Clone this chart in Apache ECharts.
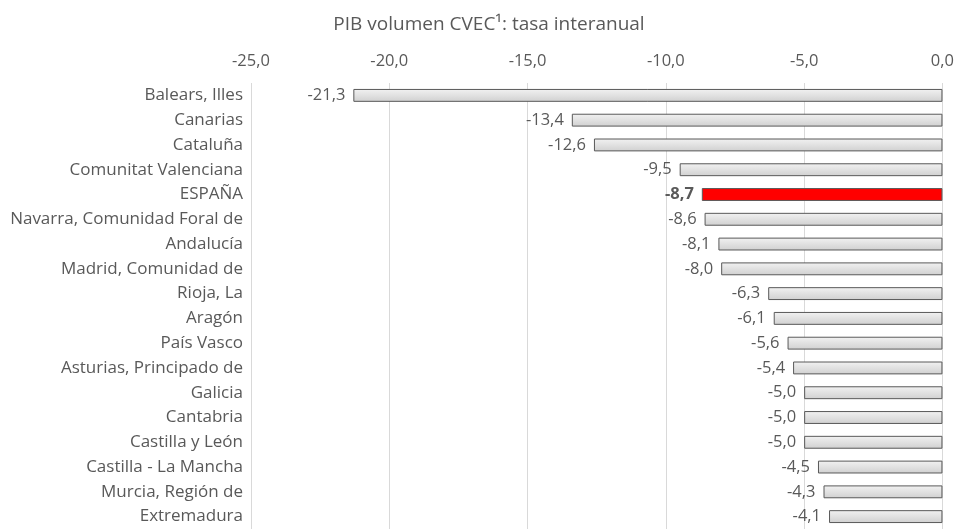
<!DOCTYPE html>
<html>
<head>
<meta charset="utf-8">
<script src="https://cdn.jsdelivr.net/npm/echarts@6/dist/echarts.min.js"></script>
<style>
  html, body { margin: 0; padding: 0; background: #fff; }
  #chart { width: 957px; height: 530px; }
</style>
</head>
<body>
<div id="chart"></div>
<script>
const regions = [
  'Balears, Illes', 'Canarias', 'Cataluña', 'Comunitat Valenciana', 'ESPAÑA',
  'Navarra, Comunidad Foral de', 'Andalucía', 'Madrid, Comunidad de', 'Rioja, La',
  'Aragón', 'País Vasco', 'Asturias, Principado de', 'Galicia', 'Cantabria',
  'Castilla y León', 'Castilla - La Mancha', 'Murcia, Región de', 'Extremadura'
]
const tasa = [-21.3, -13.4, -12.6, -9.5, -8.7, -8.6, -8.1, -8.0, -6.3, -6.1, -5.6, -5.4, -5.0, -5.0, -5.0, -4.5, -4.3, -4.1]
const highlight = 'ESPAÑA'

const fmt = (v) => v.toFixed(1).replace('.', ',')
const textColor = '#595959'
const font = 'Open Sans'

const chart = echarts.init(document.getElementById('chart'))

// barras grises con degradado, España en rojo
const barData = tasa.map((v, i) => {
  const isEsp = regions[i] === highlight
  return {
    value: v,
    itemStyle: isEsp
      ? { color: '#ff0000', borderColor: '#595959', borderWidth: 1 }
      : {
          color: new echarts.graphic.LinearGradient(0, 0, 0, 1, [
            { offset: 0, color: '#f2f2f2' },
            { offset: 1, color: '#d0d0d0' },
          ]),
          borderColor: '#595959',
          borderWidth: 1,
        },
    label: isEsp ? { fontWeight: 'bold' } : {},
  }
})

chart.setOption({
  animation: false,
  title: {
    text: 'PIB volumen CVEC¹: tasa interanual',
    left: 484,
    textAlign: 'center',
    top: 10,
    textStyle: { color: textColor, fontSize: 19, fontWeight: 'normal', fontFamily: font },
  },
  grid: { left: 251, right: 14, top: 83, bottom: 1, containLabel: false },
  xAxis: {
    type: 'value',
    position: 'top',
    min: -25,
    max: 0,
    interval: 5,
    axisLine: { show: false },
    axisTick: { show: false },
    axisLabel: { color: textColor, fontSize: 16.5, fontFamily: font, margin: 13, formatter: fmt },
    splitLine: { lineStyle: { color: '#d9d9d9' } },
  },
  yAxis: {
    type: 'category',
    inverse: true,
    data: regions,
    axisLine: { show: false },
    axisTick: { show: false },
    axisLabel: { color: textColor, fontSize: 17, fontFamily: font, margin: 8 },
  },
  series: [
    {
      type: 'bar',
      data: barData,
      barWidth: '52%',
      label: {
        show: true,
        position: 'left',
        distance: 8,
        color: textColor,
        fontSize: 16.5,
        fontFamily: font,
        formatter: (p) => fmt(p.value),
      },
    },
  ],
})
</script>
</body>
</html>
